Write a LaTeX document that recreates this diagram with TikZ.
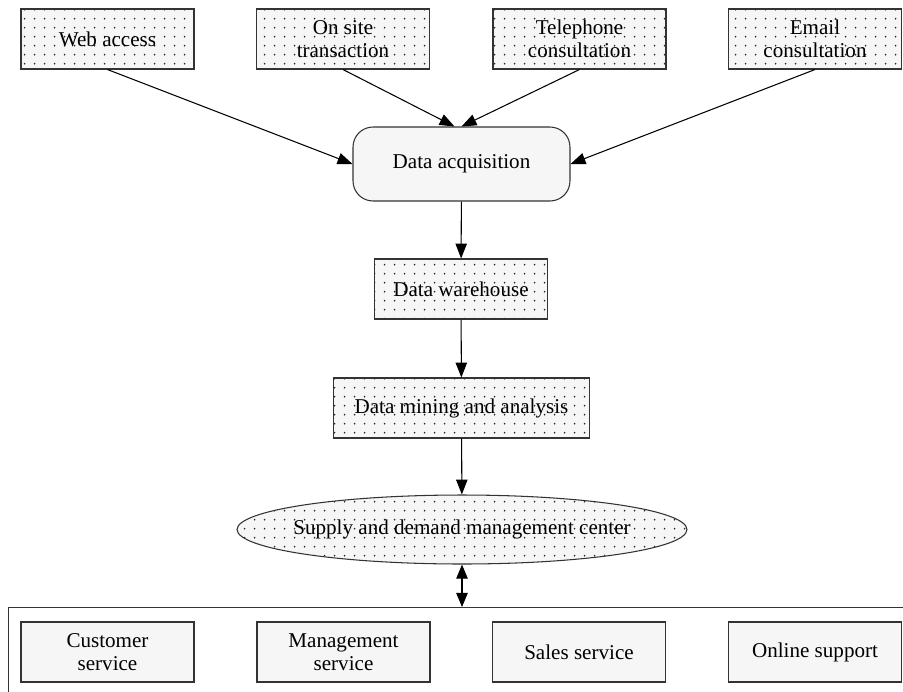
\documentclass[tikz,border=0pt]{standalone}
\usepackage{fontspec}
\setmainfont{Liberation Serif}
\usetikzlibrary{shapes.geometric, arrows.meta, patterns.meta}
\tikzstyle{arrow} = [line width=0.6pt,->,>={Stealth[length=8.5pt,width=6.5pt,inset=0pt]}]
\tikzstyle{twoway} = [line width=0.6pt,<->,>={Stealth[length=8pt,width=6.5pt,inset=0pt]}]
\tikzdeclarepattern{
  name=sparsedots,
  type=uncolored,
  bounding box={(0,0) and (5.7pt,5pt)},
  tile size={(5.7pt,5pt)},
  code={\pgfpathcircle{\pgfqpoint{2.85pt}{2.5pt}}{0.55pt}\pgfusepath{fill}}
}
\tikzstyle{dotbox} = [draw=black!80, line width=0.6pt, preaction={fill=gray!7}, pattern=sparsedots, pattern color=black!85, minimum width=3.46cm, minimum height=1.2cm, align=center, inner sep=2pt]
\tikzstyle{servicebox} = [draw=black!80, line width=0.6pt, fill=gray!7, minimum width=3.46cm, minimum height=1.2cm, align=center, inner sep=2pt]

\begin{document}
\begin{tikzpicture}[x=0.02cm, y=-0.02cm, font=\fontsize{12}{13}\selectfont]
        \useasboundingbox (0,0) rectangle (903,691);
        \clip (0,0) rectangle (903,691);
        % Node positions
        \node[dotbox] (web) at (107.5,39) {Web access};
        \node[dotbox] (onsite) at (343,39) {On site\\transaction};
        \node[dotbox] (phone) at (579.5,39) {Telephone\\consultation};
        \node[dotbox] (email) at (815,39) {Email\\consultation};
        \node[draw=black!80, line width=0.6pt, fill=gray!7, rounded corners=0.4cm, minimum width=4.34cm, minimum height=1.48cm] (acq) at (461.5,164) {Data acquisition};
        \node[dotbox] (store) at (461,289) {Data warehouse};
        \node[dotbox, minimum width=5.12cm] (mining) at (461.5,408) {Data mining and analysis};
        \node[dotbox, ellipse, inner xsep=-0.3cm, inner ysep=0pt, minimum width=9cm, minimum height=1.38cm] (center) at (462,529.5) {Supply and demand management center};
        \node[draw=black!80, line width=0.6pt, anchor=north west, minimum width=18.2cm, minimum height=1.9cm] (panel) at (8,607) {};
        \coordinate (link) at (center.south |- panel.north);
        \node[servicebox] (cust) at (107.5,652) {Customer\\service};
        \node[servicebox] (manage) at (343.5,652) {Management\\service};
        \node[servicebox] (sales) at (579,652) {Sales service};
        \node[servicebox] (online) at (815,652) {Online support};

        \draw[arrow] (web.south) -- (acq.west);
        \draw[arrow] (onsite.south) -- ([xshift=-0.14cm]acq.north);
        \draw[arrow] (phone.south) -- (acq.north);
        \draw[arrow] (email.south) -- (acq.east);
        \draw[arrow] (acq) -- (store);
        \draw[arrow] (store) -- (mining);
        \draw[arrow] (mining) -- (center);
        \draw[twoway] (center.south) -- (link);
      \end{tikzpicture}
\end{document}
